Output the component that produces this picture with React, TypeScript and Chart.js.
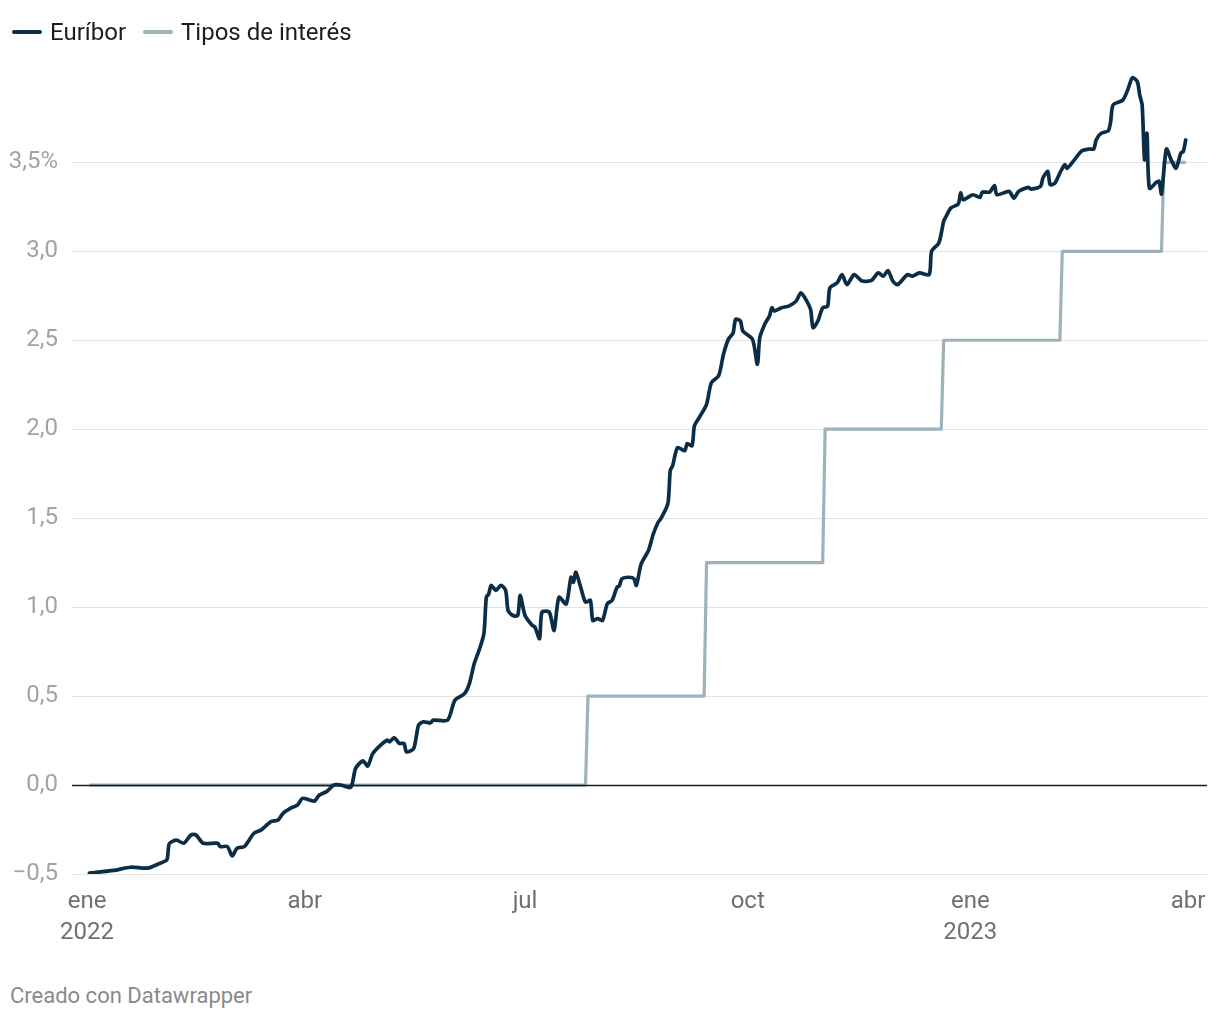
import React, { useEffect, useRef } from "react";
import { Chart, registerables } from "chart.js";

Chart.register(...registerables);

// Days counted from 1 Jan 2022 (day 0)
const euriborDays = [
  1, 11, 18, 25, 30, 33, 34, 37, 40, 43, 45, 48, 54, 55, 58, 60, 62, 65, 69, 72,
  76, 79, 81, 84, 87, 89, 92, 94, 96, 99, 102, 105, 109, 111, 114, 116, 118, 121, 124, 125,
  127, 129, 131, 132, 135, 137, 139, 142, 143, 149, 152, 156, 158, 160, 162, 164, 165, 166, 167, 169,
  171, 173, 174, 176, 178, 179, 181, 184, 185, 187, 188, 191, 193, 195, 198, 200, 201, 202, 204, 206,
  208, 209, 211, 213, 215, 217, 219, 220, 221, 224, 226, 227, 229, 232, 234, 236, 237, 240, 241, 242,
  244, 247, 248, 250, 251, 253, 256, 258, 261, 263, 265, 267, 268, 270, 271, 275, 277, 278, 280, 282,
  283, 284, 287, 290, 293, 295, 297, 299, 300, 302, 304, 306, 307, 310, 312, 314, 317, 320, 324, 327,
  329, 331, 333, 335, 339, 341, 344, 348, 349, 352, 354, 355, 357, 360, 361, 362, 366, 369, 370, 373,
  375, 376, 381, 383, 385, 389, 390, 394, 395, 397, 398, 400, 402, 404, 405, 408, 411, 414, 416, 417,
  419, 422, 423, 424, 428, 430, 432, 434, 435, 436, 437, 438, 439, 442, 443, 444, 446, 448, 450, 452,
  453, 454,
];
const euriborValues = [
  -0.495, -0.48, -0.462, -0.467, -0.44, -0.42, -0.33, -0.31, -0.327, -0.28, -0.28, -0.327, -0.327, -0.346, -0.346, -0.398, -0.355, -0.346, -0.271, -0.252,
  -0.206, -0.196, -0.159, -0.131, -0.112, -0.075, -0.084, -0.09, -0.056, -0.037, 0.0, 0.0, -0.013, 0.094, 0.136, 0.107, 0.175, 0.22, 0.252, 0.243,
  0.266, 0.234, 0.234, 0.187, 0.206, 0.337, 0.355, 0.35, 0.365, 0.365, 0.477, 0.514, 0.57, 0.682, 0.757, 0.85, 1.056, 1.074, 1.122, 1.094,
  1.122, 1.094, 0.981, 0.953, 0.953, 1.066, 0.953, 0.897, 0.89, 0.823, 0.972, 0.972, 0.869, 1.056, 1.018, 1.168, 1.14, 1.196, 1.112, 1.028,
  1.038, 0.925, 0.935, 0.925, 1.019, 1.038, 1.112, 1.12, 1.159, 1.168, 1.159, 1.122, 1.243, 1.318, 1.411, 1.477, 1.495, 1.58, 1.767, 1.795,
  1.897, 1.879, 1.92, 1.907, 2.019, 2.066, 2.14, 2.262, 2.3, 2.421, 2.505, 2.542, 2.617, 2.608, 2.552, 2.505, 2.365, 2.514, 2.589, 2.636,
  2.683, 2.664, 2.683, 2.692, 2.72, 2.767, 2.73, 2.673, 2.571, 2.608, 2.683, 2.69, 2.795, 2.823, 2.869, 2.813, 2.869, 2.835, 2.835, 2.879,
  2.86, 2.892, 2.832, 2.813, 2.869, 2.86, 2.879, 2.869, 3.0, 3.047, 3.169, 3.197, 3.244, 3.266, 3.328, 3.29, 3.318, 3.303, 3.333, 3.333,
  3.37, 3.318, 3.337, 3.299, 3.337, 3.359, 3.35, 3.365, 3.412, 3.449, 3.375, 3.384, 3.44, 3.487, 3.467, 3.514, 3.564, 3.575, 3.575, 3.626,
  3.663, 3.677, 3.73, 3.823, 3.85, 3.906, 3.976, 3.954, 3.878, 3.823, 3.514, 3.663, 3.355, 3.389, 3.393, 3.322, 3.575, 3.514, 3.467, 3.552,
  3.561, 3.626,
];

const tiposDays = [1, 206, 207, 255, 256, 304, 305, 353, 354, 402, 403, 444, 445, 454];
const tiposValues = [0, 0, 0.5, 0.5, 1.25, 1.25, 2.0, 2.0, 2.5, 2.5, 3.0, 3.0, 3.5, 3.5];

const xTickDays = [0, 90, 181, 273, 365, 455];
const xTickLabels: (string | string[])[] = [["ene", "2022"], "abr", "jul", "oct", ["ene", "2023"], "abr"];

const seriesNames = ["Euríbor", "Tipos de interés"];
const seriesColors = ["#0c2d46", "#9db2ba"];

const FONT = "Roboto, 'Noto Sans', sans-serif";

function fmtY(v: number): string {
  const s = Math.abs(v).toFixed(1).replace(".", ",");
  if (v < 0) return "\u2212" + s;
  if (Math.abs(v - 3.5) < 1e-9) return s + "%";
  return s;
}

const zeroLinePlugin = {
  id: "zeroLine",
  afterDatasetDraw(chart: any, args: any) {
    if (args.index !== 1) return;
    const { ctx, chartArea, scales } = chart;
    const y = Math.round(scales.y.getPixelForValue(0)) + 0.5;
    ctx.save();
    ctx.strokeStyle = "#1a1a1a";
    ctx.lineWidth = 1.4;
    ctx.beginPath();
    ctx.moveTo(chartArea.left, y);
    ctx.lineTo(chartArea.right, y);
    ctx.stroke();
    ctx.restore();
  },
};

export default function App() {
  const ref = useRef<HTMLCanvasElement | null>(null);

  useEffect(() => {
    if (!ref.current) return;
    const chart = new Chart(ref.current, {
      type: "line",
      data: {
        datasets: [
          {
            label: seriesNames[0],
            data: euriborDays.map((d, i) => ({ x: d, y: euriborValues[i] })),
            borderColor: seriesColors[0],
            borderWidth: 3.7,
            pointRadius: 0,
            tension: 0.25,
            borderJoinStyle: "round",
            borderCapStyle: "round",
          },
          {
            label: seriesNames[1],
            data: tiposDays.map((d, i) => ({ x: d, y: tiposValues[i] })),
            borderColor: seriesColors[1],
            borderWidth: 3.2,
            pointRadius: 0,
            tension: 0,
            borderJoinStyle: "round",
          },
        ],
      },
      options: {
        animation: false,
        responsive: false,
        maintainAspectRatio: false,
        layout: { padding: { top: 12, right: 5, left: 0, bottom: 0 } },
        plugins: { legend: { display: false }, tooltip: { enabled: false } },
        scales: {
          x: {
            type: "linear",
            min: -6.2,
            max: 462.8,
            afterBuildTicks: (scale: any) => {
              scale.ticks = xTickDays.map((v) => ({ value: v }));
            },
            afterFit: (scale: any) => {
              scale.height = 80;
              scale.paddingLeft = 0;
              scale.paddingRight = 0;
            },
            grid: { display: false, drawTicks: false },
            border: { display: false },
            ticks: {
              autoSkip: false,
              maxRotation: 0,
              padding: 12,
              color: "#707070",
              font: { family: FONT, size: 24, lineHeight: 1.3 },
              callback: (v: any) => {
                const i = xTickDays.indexOf(Number(v));
                return i >= 0 ? xTickLabels[i] : "";
              },
            },
          },
          y: {
            type: "linear",
            min: -0.5,
            max: 4.0,
            afterBuildTicks: (scale: any) => {
              scale.ticks = scale.ticks.filter((t: any) => t.value <= 3.5 + 1e-9);
            },
            afterFit: (scale: any) => {
              scale.width = 64;
            },
            grid: {
              drawTicks: false,
              lineWidth: 1,
              color: (c: any) => (c.tick && Math.abs(c.tick.value) < 1e-9 ? "rgba(0,0,0,0)" : "#e3e3e3"),
            },
            border: { display: false },
            ticks: {
              stepSize: 0.5,
              padding: 14,
              color: "#a3a3a3",
              font: { family: FONT, size: 24 },
              callback: (v: any) => fmtY(Number(v)),
            },
          },
        },
      },
      plugins: [zeroLinePlugin],
    } as any);
    return () => chart.destroy();
  }, []);

  const legendItem = (i: number, left: number) => (
    <div
      key={i}
      style={{ position: "absolute", left, top: 9, height: 30, display: "flex", alignItems: "center", zIndex: 2 }}
    >
      <span
        style={{
          display: "inline-block",
          width: 30,
          height: 4,
          borderRadius: 2,
          background: seriesColors[i],
          marginRight: 8,
        }}
      />
      <span style={{ font: `24px ${FONT}`, lineHeight: "30px", color: "#1d1d1d" }}>{seriesNames[i]}</span>
    </div>
  );

  return (
    <div style={{ position: "relative", width: 1204, height: 1004, fontFamily: FONT }}>
      <canvas
        ref={ref}
        width={1204}
        height={909}
        style={{ position: "absolute", left: 0, top: 37, width: 1204, height: 909 }}
      />
      {legendItem(0, 4)}
      {legendItem(1, 135)}
      <div
        style={{
          position: "absolute",
          left: 2,
          top: 976,
          font: `22px ${FONT}`,
          lineHeight: "24px",
          color: "#8a8a8a",
        }}
      >
        Creado con Datawrapper
      </div>
    </div>
  );
}
